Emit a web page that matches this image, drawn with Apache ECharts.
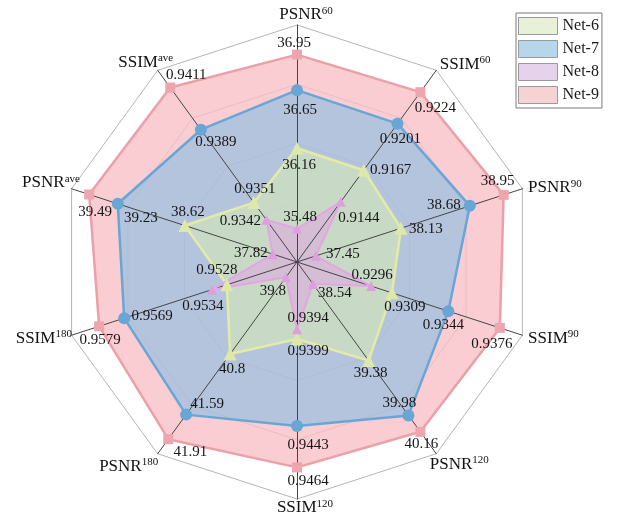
<!DOCTYPE html>
<html>
<head>
<meta charset="utf-8">
<script src="https://cdn.jsdelivr.net/npm/echarts@6/dist/echarts.min.js"></script>
<style>
  html, body { margin: 0; padding: 0; background: #fff; }
  #chart { width: 618px; height: 519px; }
</style>
</head>
<body>
<div id="chart"></div>
<script>
// Indicators, listed clockwise from the top
const indicatorBase = ['PSNR', 'SSIM', 'PSNR', 'SSIM', 'PSNR', 'SSIM', 'PSNR', 'SSIM', 'PSNR', 'SSIM'];
const indicatorSup  = ['60', '60', '90', '90', '120', '120', '180', '180', 'ave', 'ave'];
const axisMin = [35.2, 0.910, 37.3, 0.925, 38.3, 0.936, 39.6, 0.950, 37.6, 0.932];
const axisMax = [37.2, 0.924, 39.1, 0.939, 40.4, 0.948, 42.1, 0.959, 39.65, 0.942];

// Scores per network, same order as the indicators
const net6 = [36.16, 0.9167, 38.13, 0.9309, 39.38, 0.9399, 40.8, 0.9528, 38.62, 0.9351];
const net7 = [36.65, 0.9201, 38.68, 0.9344, 39.98, 0.9443, 41.59, 0.9569, 39.23, 0.9389];
const net8 = [35.48, 0.9144, 37.45, 0.9296, 38.54, 0.9394, 39.8, 0.9534, 37.82, 0.9342];
const net9 = [36.95, 0.9224, 38.95, 0.9376, 40.16, 0.9464, 41.91, 0.9579, 39.49, 0.9411];

const legendNames = ['Net-6', 'Net-7', 'Net-8', 'Net-9'];

// ---- layout / styling ----
const FONT = '"Liberation Serif", "Times New Roman", serif';
const CENTER = [297, 262];
const RADIUS = 237;
const N = indicatorBase.length;

// value-label nudges (dx, dy) from each marker, per indicator
const labelNudge = {
  'Net-9': [[-3,-12],[15,16],[-6,-14],[-8,16],[1,12],[11,14],[22,13],[1,14],[6,18],[16,-12]],
  'Net-7': [[3,20],[3,15],[-26,-1],[-5,14],[-9,-12],[11,19],[21,-11],[28,-2],[23,14],[15,12]],
  'Net-6': [[2,17],[27,0],[25,1],[13,14],[2,12],[11,12],[2,15],[-10,-15],[3,-13],[1,-13]],
  'Net-8': [[3,-12],[18,16],[27,-2],[1,-11],[22,9],[11,-11],[-13,14],[-9,16],[-22,-1],[-26,1]]
};
// axis-name nudges (dx, dy) relative to a plain placement 6px beyond the rim
const nameNudge = [[9,6],[0,-1],[0,1],[0,1],[-10,6],[8,-7],[4,8],[6,1],[14,-4],[19,-3]];
const BASE_GAP = 6;
const NAME_GAP = -34;
const SUP_RAISE = 4;

// ECharts lays radar indicators out counter-clockwise; reorder to run clockwise
const order = [0];
for (let k = 1; k < N; k++) order.push(N - k);
const keyOf = j => indicatorBase[j] + indicatorSup[j];
const indexByKey = {};
for (let j = 0; j < N; j++) indexByKey[keyOf(j)] = j;

const indicators = order.map(j => ({ name: keyOf(j), min: axisMin[j], max: axisMax[j] }));
const reorder = arr => order.map(j => arr[j]);

// rich styles for axis names (main text + superscript), padded per indicator.
// With a fixed lineHeight, vertical padding moves a token by (top - bottom) / 2.
const nameRich = {};
for (let j = 0; j < N; j++) {
  const th = (90 - 36 * j) * Math.PI / 180;
  const c = Math.cos(th), s = Math.sin(th);
  const shift = NAME_GAP - BASE_GAP;
  const sx = nameNudge[j][0] - shift * c;
  const sy = nameNudge[j][1] + shift * s;
  let align;
  if (Math.abs(c) < 1e-6) align = 'center';
  else align = c > 0 ? 'left' : 'right';
  let pl = 0, pr = 0;
  if (align === 'center') { pl = 2 * Math.max(sx, 0); pr = 2 * Math.max(-sx, 0); }
  else if (align === 'left') { pl = Math.max(sx, 0); }
  else { pr = Math.max(-sx, 0); }
  const v = 2 * sy;
  const vs = 2 * (sy - SUP_RAISE);
  nameRich['m' + j] = { fontFamily: FONT, fontSize: 17, color: '#111', lineHeight: 20,
    padding: [Math.max(v, 0), 0, Math.max(-v, 0), pl] };
  nameRich['s' + j] = { fontFamily: FONT, fontSize: 11, color: '#111', lineHeight: 20,
    padding: [Math.max(vs, 0), pr, Math.max(-vs, 0), 0] };
}

const nets = [
  { name: 'Net-9', values: net9, area: 'rgba(240,140,150,0.43)', line: '#eba0a8', symbol: 'rect', size: 10, mark: '#efa5ad', width: 2.5 },
  { name: 'Net-7', values: net7, area: 'rgba(126,189,230,0.55)', line: '#68a6d6', symbol: 'circle', size: 12, mark: '#68a6d6', width: 2.5 },
  { name: 'Net-6', values: net6, area: 'rgba(220,240,175,0.5)', line: '#e3eba6', symbol: 'triangle', size: 13, mark: '#dde9ab', width: 2.5 },
  { name: 'Net-8', values: net8, area: 'rgba(225,160,230,0.5)', line: '#e2a6e2', symbol: 'triangle', size: 10, mark: '#dea0dc', width: 2 }
];

const series = [];
// filled areas underneath the spokes
nets.forEach(n => {
  series.push({
    type: 'radar', name: n.name, radarIndex: 0, z: 2, silent: true,
    symbol: 'none',
    lineStyle: { width: 0, opacity: 0 },
    areaStyle: { color: n.area, opacity: 1 },
    data: [{ name: n.name, value: reorder(n.values) }]
  });
});
// outlines, markers and value labels above the spokes
nets.forEach(n => {
  const rich = {};
  labelNudge[n.name].forEach((d, j) => {
    rich['v' + j] = {
      fontFamily: FONT, fontSize: 15, color: '#151515',
      padding: [2 * Math.max(d[1], 0), 2 * Math.max(-d[0], 0), 2 * Math.max(-d[1], 0), 2 * Math.max(d[0], 0)]
    };
  });
  series.push({
    type: 'radar', name: n.name, radarIndex: 0, z: 4,
    symbol: n.symbol, symbolSize: n.size,
    itemStyle: { color: n.mark, opacity: 1 },
    lineStyle: { color: n.line, width: n.width, opacity: 1 },
    label: {
      show: true, position: 'inside', color: '#151515', textBorderWidth: 0,
      formatter: p => {
        const j = n.values.indexOf(p.value);
        return '{v' + j + '|' + String(p.value) + '}';
      },
      rich: rich
    },
    data: [{ name: n.name, value: reorder(n.values) }]
  });
});

const legendColors = { 'Net-6': '#e9f0d8', 'Net-7': '#b6d6eb', 'Net-8': '#e4d3ea', 'Net-9': '#f6d2d4' };

const option = {
  backgroundColor: '#fff',
  animation: false,
  legend: {
    orient: 'vertical', left: 516, top: 13,
    padding: [4, 3, 4, 2],
    backgroundColor: '#fff', borderColor: '#7a7a7a', borderWidth: 1,
    itemWidth: 39, itemHeight: 17, itemGap: 5,
    icon: 'rect', selectedMode: false,
    textStyle: { fontFamily: FONT, fontSize: 16, color: '#1a1a1a' },
    data: legendNames.map(nm => ({ name: nm, itemStyle: { color: legendColors[nm], borderColor: '#9a9a9a', borderWidth: 1 } }))
  },
  radar: [
    {
      center: CENTER, radius: RADIUS, startAngle: 90, shape: 'polygon', z: 1,
      splitNumber: 4,
      indicator: indicators,
      nameGap: NAME_GAP,
      axisName: {
        formatter: (name) => {
          const j = indexByKey[name];
          return '{m' + j + '|' + indicatorBase[j] + '}{s' + j + '|' + indicatorSup[j] + '}';
        },
        rich: nameRich
      },
      axisLine: { show: false },
      splitLine: { show: true, lineStyle: { color: ['#e2e2e2', '#e2e2e2', '#e2e2e2', '#e2e2e2', '#b5b5b5'], width: 1 } },
      splitArea: { show: false }
    },
    {
      center: CENTER, radius: RADIUS, startAngle: 90, shape: 'polygon', z: 3,
      splitNumber: 4,
      indicator: indicators,
      axisName: { show: false },
      axisLine: { show: true, lineStyle: { color: '#454545', width: 1 } },
      splitLine: { show: false },
      splitArea: { show: false }
    }
  ],
  series: series
};

const chart = echarts.init(document.getElementById('chart'), null, { renderer: 'canvas' });
chart.setOption(option);
</script>
</body>
</html>
